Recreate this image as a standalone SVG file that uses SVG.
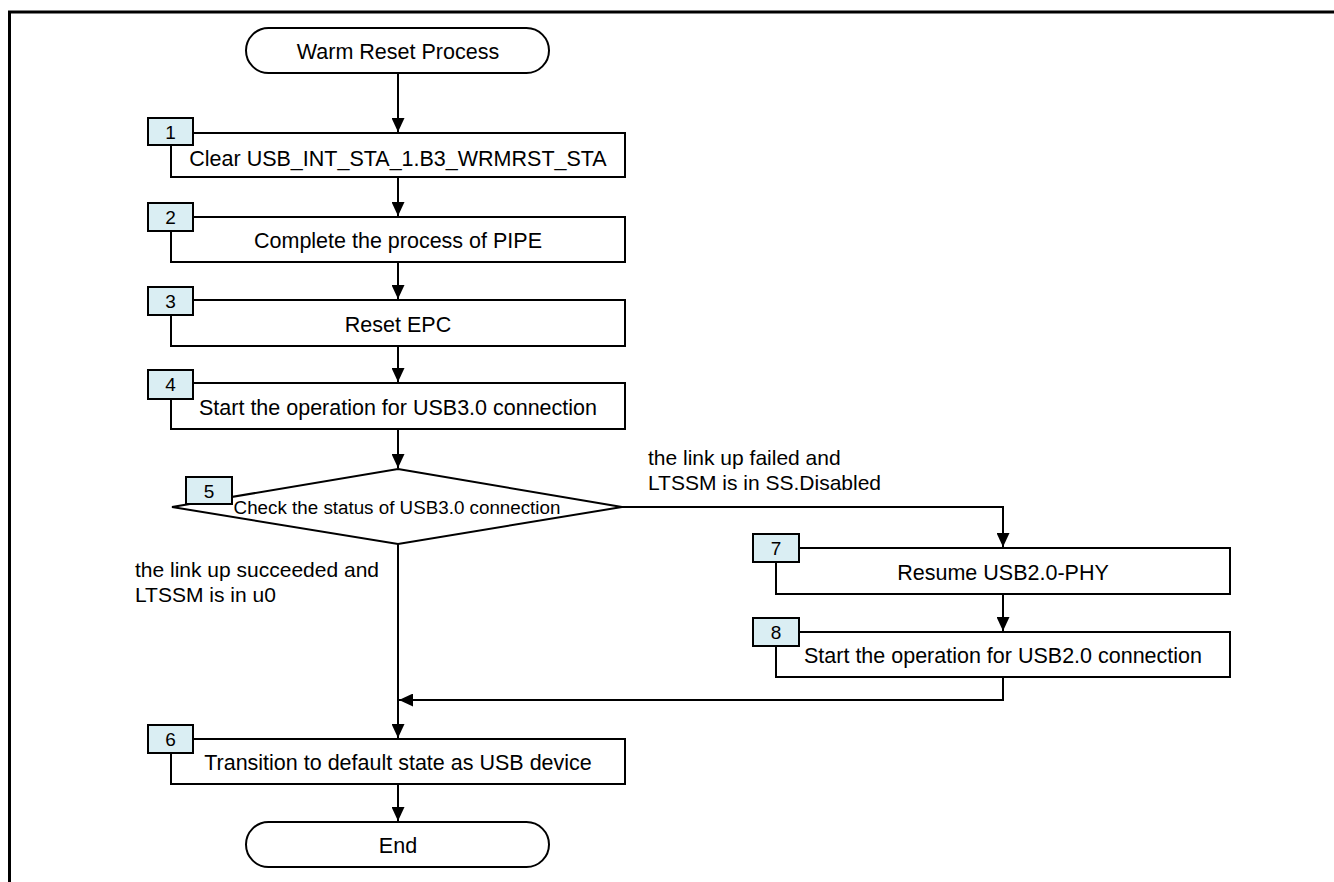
<svg xmlns="http://www.w3.org/2000/svg" width="1334" height="882" viewBox="0 0 1334 882">
<style>
  .box{fill:#ffffff;stroke:#000;stroke-width:2}
  .tag{fill:#daeef3;stroke:#000;stroke-width:2}
  .t{font-family:"Liberation Sans",Arial,sans-serif;font-size:21.5px;fill:#000;text-anchor:middle}
  .d{font-family:"Liberation Sans",Arial,sans-serif;font-size:18.8px;fill:#000;text-anchor:middle}
  .n{font-family:"Liberation Sans",Arial,sans-serif;font-size:19px;fill:#000;text-anchor:middle}
  .l{font-family:"Liberation Sans",Arial,sans-serif;font-size:21px;fill:#000}
  .c{fill:none;stroke:#000;stroke-width:2}
</style>
<defs>
  <marker id="ah" markerWidth="14" markerHeight="13" refX="14" refY="6.5" orient="auto" markerUnits="userSpaceOnUse">
    <path d="M0,0 L14,6.5 L0,13 Z" fill="#000"/>
  </marker>
</defs>
<rect width="1334" height="882" fill="#ffffff"/>
<path d="M9.5,882 V12 H1334" fill="none" stroke="#000" stroke-width="3"/>

<g id="connectors">
  <path class="c" d="M398,73 V132" marker-end="url(#ah)"/>
  <path class="c" d="M398,177 V216" marker-end="url(#ah)"/>
  <path class="c" d="M398,262 V299" marker-end="url(#ah)"/>
  <path class="c" d="M398,346 V382" marker-end="url(#ah)"/>
  <path class="c" d="M398,429 V468" marker-end="url(#ah)"/>
  <path class="c" d="M398,544 V738" marker-end="url(#ah)"/>
  <path class="c" d="M622,507 H1003 V547" marker-end="url(#ah)"/>
  <path class="c" d="M1003,594 V631" marker-end="url(#ah)"/>
  <path class="c" d="M1003,677 V700 H399" marker-end="url(#ah)"/>
  <path class="c" d="M398,784 V821" marker-end="url(#ah)"/>
  <text class="l" x="648" y="465">the link up failed and</text>
  <text class="l" x="648" y="490">LTSSM is in SS.Disabled</text>
  <text class="l" x="135" y="577">the link up succeeded and</text>
  <text class="l" x="135" y="602">LTSSM is in u0</text>
</g>

<g id="start">
  <rect class="box" x="246" y="28" width="303" height="45" rx="22.5"/>
  <text class="t" x="398" y="59">Warm Reset Process</text>
</g>

<g id="step1">
  <rect class="box" x="171" y="133" width="454" height="44"/>
  <rect class="tag" x="148" y="118" width="45" height="27"/>
  <text class="n" x="170.5" y="139">1</text>
  <text class="t" x="398" y="166">Clear USB_INT_STA_1.B3_WRMRST_STA</text>
</g>

<g id="step2">
  <rect class="box" x="171" y="217" width="454" height="45"/>
  <rect class="tag" x="148" y="203" width="45" height="28"/>
  <text class="n" x="170.5" y="224">2</text>
  <text class="t" x="398" y="248">Complete the process of PIPE</text>
</g>

<g id="step3">
  <rect class="box" x="171" y="300" width="454" height="46"/>
  <rect class="tag" x="148" y="287" width="45" height="28"/>
  <text class="n" x="170.5" y="308">3</text>
  <text class="t" x="398" y="332">Reset EPC</text>
</g>

<g id="step4">
  <rect class="box" x="171" y="383" width="454" height="46"/>
  <rect class="tag" x="148" y="370" width="45" height="29"/>
  <text class="n" x="170.5" y="391">4</text>
  <text class="t" x="398" y="415">Start the operation for USB3.0 connection</text>
</g>

<g id="step5">
  <polygon class="box" points="398,469 622,507 398,544 172,507"/>
  <rect class="tag" x="186" y="477" width="46" height="27"/>
  <text class="n" x="209" y="498">5</text>
  <text class="d" x="397" y="514">Check the status of USB3.0 connection</text>
</g>

<g id="step7">
  <rect class="box" x="776" y="548" width="454" height="46"/>
  <rect class="tag" x="753" y="534" width="46" height="28"/>
  <text class="n" x="776" y="555">7</text>
  <text class="t" x="1003" y="580">Resume USB2.0-PHY</text>
</g>

<g id="step8">
  <rect class="box" x="776" y="632" width="454" height="45"/>
  <rect class="tag" x="753" y="618" width="46" height="28"/>
  <text class="n" x="776" y="639">8</text>
  <text class="t" x="1003" y="663">Start the operation for USB2.0 connection</text>
</g>

<g id="step6">
  <rect class="box" x="171" y="739" width="454" height="45"/>
  <rect class="tag" x="148" y="725" width="45" height="28"/>
  <text class="n" x="170.5" y="746">6</text>
  <text class="t" x="398" y="770">Transition to default state as USB device</text>
</g>

<g id="end">
  <rect class="box" x="246" y="822" width="303" height="45" rx="22.5"/>
  <text class="t" x="398" y="853">End</text>
</g>
</svg>
